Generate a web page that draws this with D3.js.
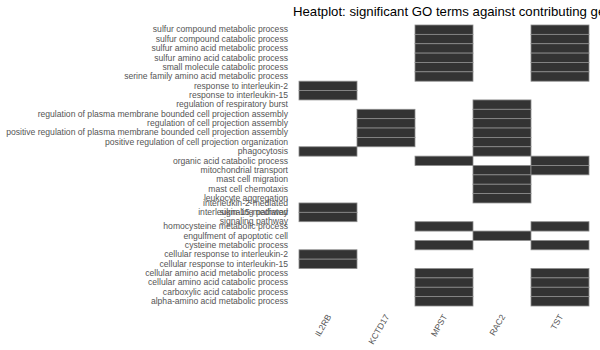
<!DOCTYPE html>
<html>
<head>
<meta charset="utf-8">
<script src="https://cdn.jsdelivr.net/npm/d3@7"></script>
<style>
  body { margin: 0; background: #fff; }
  svg { display: block; }
  text { font-family: "Liberation Sans", Arial, sans-serif; }
</style>
</head>
<body>
<svg id="chart" width="600" height="350"></svg>
<script>
const title = "Heatplot: significant GO terms against contributing genes";
const genes = ["IL2RB", "KCTD17", "MPST", "RAC2", "TST"];
const terms = [
  "sulfur compound metabolic process",
  "sulfur compound catabolic process",
  "sulfur amino acid metabolic process",
  "sulfur amino acid catabolic process",
  "small molecule catabolic process",
  "serine family amino acid metabolic process",
  "response to interleukin-2",
  "response to interleukin-15",
  "regulation of respiratory burst",
  "regulation of plasma membrane bounded cell projection assembly",
  "regulation of cell projection assembly",
  "positive regulation of plasma membrane bounded cell projection assembly",
  "positive regulation of cell projection organization",
  "phagocytosis",
  "organic acid catabolic process",
  "mitochondrial transport",
  "mast cell migration",
  "mast cell chemotaxis",
  "leukocyte aggregation",
  "interleukin-2-mediated signaling pathway",
  "interleukin-15-mediated signaling pathway",
  "homocysteine metabolic process",
  "engulfment of apoptotic cell",
  "cysteine metabolic process",
  "cellular response to interleukin-2",
  "cellular response to interleukin-15",
  "cellular amino acid metabolic process",
  "cellular amino acid catabolic process",
  "carboxylic acid catabolic process",
  "alpha-amino acid metabolic process"
];
// terms contributed by each gene
const il2rbTerms = [
  "response to interleukin-2", "response to interleukin-15", "phagocytosis",
  "interleukin-2-mediated signaling pathway", "interleukin-15-mediated signaling pathway",
  "cellular response to interleukin-2", "cellular response to interleukin-15"
];
const kctd17Terms = [
  "regulation of plasma membrane bounded cell projection assembly",
  "regulation of cell projection assembly",
  "positive regulation of plasma membrane bounded cell projection assembly",
  "positive regulation of cell projection organization"
];
const mpstTerms = [
  "sulfur compound metabolic process", "sulfur compound catabolic process",
  "sulfur amino acid metabolic process", "sulfur amino acid catabolic process",
  "small molecule catabolic process", "serine family amino acid metabolic process",
  "organic acid catabolic process", "homocysteine metabolic process",
  "cysteine metabolic process", "cellular amino acid metabolic process",
  "cellular amino acid catabolic process", "carboxylic acid catabolic process",
  "alpha-amino acid metabolic process"
];
const rac2Terms = [
  "regulation of respiratory burst",
  "regulation of plasma membrane bounded cell projection assembly",
  "regulation of cell projection assembly",
  "positive regulation of plasma membrane bounded cell projection assembly",
  "positive regulation of cell projection organization",
  "phagocytosis", "mitochondrial transport", "mast cell migration",
  "mast cell chemotaxis", "leukocyte aggregation", "engulfment of apoptotic cell"
];
const tstTerms = [
  "sulfur compound metabolic process", "sulfur compound catabolic process",
  "sulfur amino acid metabolic process", "sulfur amino acid catabolic process",
  "small molecule catabolic process", "serine family amino acid metabolic process",
  "organic acid catabolic process", "mitochondrial transport",
  "homocysteine metabolic process", "cysteine metabolic process",
  "cellular amino acid metabolic process", "cellular amino acid catabolic process",
  "carboxylic acid catabolic process", "alpha-amino acid metabolic process"
];
const geneTermLists = [il2rbTerms, kctd17Terms, mpstTerms, rac2Terms, tstTerms];
// labels that wrap onto two lines
const wrapped = {
  "interleukin-2-mediated signaling pathway": ["interleukin-2-mediated", "signaling pathway"],
  "interleukin-15-mediated signaling pathway": ["interleukin-15-mediated", "signaling pathway"]
};

const cells = [];
genes.forEach((g, i) => geneTermLists[i].forEach(t => cells.push({gene: g, term: t})));

const svg = d3.select("#chart");
const x = d3.scaleBand().domain(genes).range([299, 589]).padding(0);
const y = d3.scaleBand().domain(terms).range([25, 306]).padding(0);

svg.append("g").selectAll("rect").data(cells).join("rect")
  .attr("x", d => x(d.gene))
  .attr("y", d => y(d.term))
  .attr("width", x.bandwidth())
  .attr("height", y.bandwidth())
  .attr("fill", "#333333")
  .attr("stroke", "#8c8c8c")
  .attr("stroke-width", 0.8);

// y axis labels
const yAxis = svg.append("g").attr("transform", "translate(299,0)")
  .call(d3.axisLeft(y).tickSize(0).tickPadding(11));
yAxis.select(".domain").remove();
yAxis.selectAll("text")
  .attr("fill", "#555555")
  .style("font-size", "8.6px")
  .each(function(d) {
    if (wrapped[d]) {
      const el = d3.select(this).text(null).attr("dy", null);
      wrapped[d].forEach((line, i) => {
        el.append("tspan").attr("x", -11).attr("dy", i === 0 ? "-0.2em" : "1.02em").text(line);
      });
    }
  });

// x axis labels
const xAxis = svg.append("g").attr("transform", "translate(0,306)")
  .call(d3.axisBottom(x).tickSize(0).tickPadding(0));
xAxis.select(".domain").remove();
xAxis.selectAll("text")
  .attr("fill", "#555555")
  .style("font-size", "8.6px")
  .attr("text-anchor", "end")
  .attr("dy", "0.35em")
  .attr("transform", "translate(1,9) rotate(-60)")
  .attr("y", 0)
  .attr("x", 0);

svg.append("text")
  .attr("x", 293).attr("y", 16)
  .attr("fill", "#000")
  .style("font-size", "13.2px")
  .text(title);
</script>
</body>
</html>
